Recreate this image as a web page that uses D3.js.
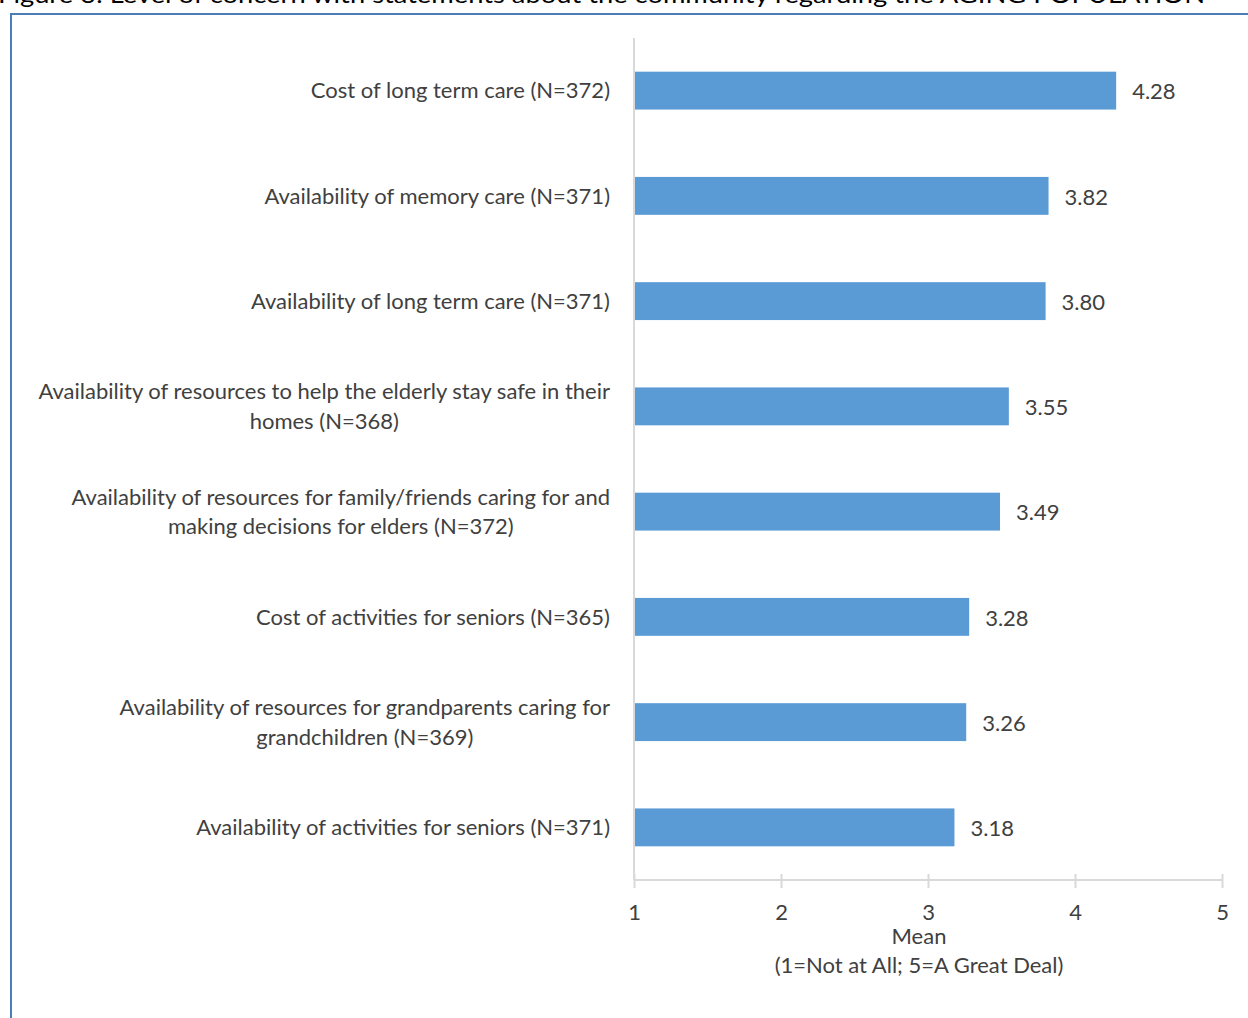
<!DOCTYPE html>
<html>
<head>
<meta charset="utf-8">
<script src="https://cdn.jsdelivr.net/npm/d3@7"></script>
<style>
  html, body { margin: 0; padding: 0; background: #fff; }
  svg { display: block; }
  text { font-family: Lato, "Open Sans", sans-serif; }
</style>
</head>
<body>
<svg id="chart" width="1248" height="1018"></svg>
<script>
// Survey items (each entry = wrapped lines of the category label)
const categories = [
  ["Cost of long term care (N=372)"],
  ["Availability of memory care (N=371)"],
  ["Availability of long term care (N=371)"],
  ["Availability of resources to help the elderly stay safe in their", "homes (N=368)"],
  ["Availability of resources for family/friends caring for and", "making decisions for elders (N=372)"],
  ["Cost of activities for seniors (N=365)"],
  ["Availability of resources for grandparents caring for", "grandchildren (N=369)"],
  ["Availability of activities for seniors (N=371)"]
];
const means = [4.28, 3.82, 3.80, 3.55, 3.49, 3.28, 3.26, 3.18];
const xTicks = [1, 2, 3, 4, 5];
const titleText = "Figure 3: Level of concern with statements about the community regarding the AGING POPULATION";
const axisTitle = ["Mean", "(1=Not at All; 5=A Great Deal)"];

const svg = d3.select("#chart");
const textColor = "#404040";
const gridColor = "#d9d9d9";
const barColor = "#5b9bd5";
const fs = 22;

// Figure caption above the frame (runs off the top of the page)
svg.append("text")
  .attr("x", -2).attr("y", 3)
  .attr("font-size", 24)
  .attr("fill", "#000")
  .attr("textLength", 1207)
  .attr("lengthAdjust", "spacingAndGlyphs")
  .text(titleText);

// Chart frame
svg.append("rect")
  .attr("x", 11).attr("y", 14)
  .attr("width", 1260).attr("height", 1030)
  .attr("fill", "none")
  .attr("stroke", "#4a7ebb")
  .attr("stroke-width", 2);

const x = d3.scaleLinear().domain([1, 5]).range([634, 1222]);
const y = d3.scaleBand()
  .domain(d3.range(categories.length))
  .range([38, 880])
  .paddingInner(0.64)
  .paddingOuter(0.32);

// Bars
svg.append("g").selectAll("rect")
  .data(means)
  .join("rect")
  .attr("x", x(1))
  .attr("y", (d, i) => y(i))
  .attr("width", d => x(d) - x(1))
  .attr("height", y.bandwidth())
  .attr("fill", barColor);

// Value labels
svg.append("g").selectAll("text")
  .data(means)
  .join("text")
  .attr("x", d => x(d) + 16)
  .attr("y", (d, i) => y(i) + y.bandwidth() / 2 + 1)
  .attr("dy", "0.35em")
  .attr("font-size", fs)
  .attr("fill", textColor)
  .text(d => d.toFixed(2));

// Vertical category axis line
svg.append("line")
  .attr("x1", x(1)).attr("x2", x(1))
  .attr("y1", 38).attr("y2", 880)
  .attr("stroke", gridColor).attr("stroke-width", 2);

// Category labels, centred within their block and right-aligned next to the axis
const labelG = svg.append("g");
categories.forEach((lines, i) => {
  const cy = y(i) + y.bandwidth() / 2;
  const lh = 29.5;
  const t = labelG.append("text")
    .attr("font-size", fs)
    .attr("fill", textColor)
    .attr("text-anchor", "middle");
  lines.forEach((ln, k) => {
    t.append("tspan")
      .attr("x", 0)
      .attr("y", cy + (k - (lines.length - 1) / 2) * lh)
      .attr("dy", "0.35em")
      .text(ln);
  });
  const w = t.node().getBBox().width;
  t.attr("transform", `translate(${610 - w / 2},0)`);
});

// Value axis
const xAxis = d3.axisBottom(x).tickValues(xTicks).tickSize(8).tickPadding(16).tickFormat(d3.format("d"));
const axG = svg.append("g").attr("transform", "translate(0,880)").call(xAxis);
axG.select(".domain").attr("stroke", gridColor).attr("stroke-width", 2).attr("d", `M${x(1)},0H${x(5)}`);
axG.selectAll(".tick line").attr("stroke", gridColor).attr("stroke-width", 2).attr("y1", -6);
axG.selectAll(".tick text")
  .attr("font-size", fs)
  .attr("font-family", "Lato, 'Open Sans', sans-serif")
  .attr("fill", textColor);

// Axis title
svg.append("g").selectAll("text")
  .data(axisTitle)
  .join("text")
  .attr("x", 919)
  .attr("y", (d, i) => 944 + i * 29)
  .attr("text-anchor", "middle")
  .attr("font-size", fs)
  .attr("fill", textColor)
  .text(d => d);
</script>
</body>
</html>
